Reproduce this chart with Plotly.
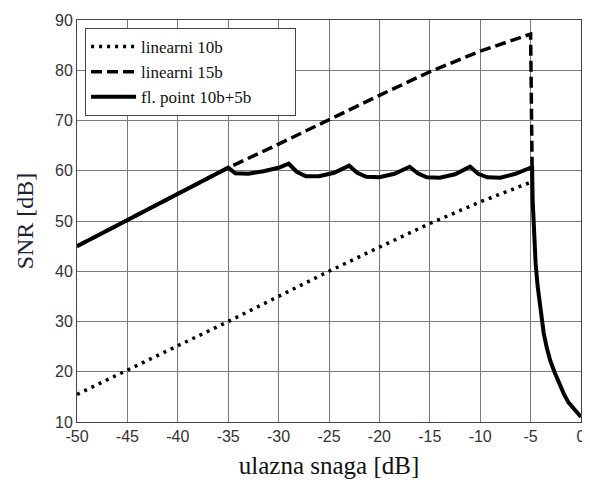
import plotly.graph_objects as go

# linearni 10b (dotted)
lin10_x = [-50, -45, -40, -35, -30, -25, -20, -15, -10, -7, -5]
lin10_y = [15.5, 20.3, 25.2, 30.0, 35.0, 40.0, 44.8, 49.5, 53.8, 56.2, 57.7]

# linearni 15b (dashed)
lin15_x = [-50, -35, -30, -25, -20, -15, -10, -5, -4.85]
lin15_y = [45.0, 60.6, 65.3, 70.2, 75.0, 79.7, 83.8, 87.2, 60.8]

# fl. point 10b+5b (solid)
fp_x = [-50, -35, -34.3, -33, -31.5, -30, -29, -28.2, -27.3, -26, -24.5, -23,
        -22.2, -21.3, -20, -18.5, -17, -16.2, -15.3, -14, -12.5, -11,
        -10.2, -9.3, -8, -6.5, -5, -4.85, -4.8, -4.7, -4.6, -4.5, -4.3, -4.1,
        -3.9, -3.7, -3.4, -3.05, -2.6, -2.2, -1.7, -1.25, -0.6, 0]
fp_y = [45.0, 60.6, 59.5, 59.4, 59.9, 60.6, 61.4, 59.8, 58.9, 58.9, 59.6, 61.0,
        59.6, 58.8, 58.7, 59.4, 60.8, 59.5, 58.7, 58.6, 59.3, 60.8,
        59.4, 58.7, 58.6, 59.4, 60.6, 60.6, 54.3, 49.0, 45.3, 41.5, 37.0, 33.3,
        30.3, 27.7, 24.8, 22.2, 19.8, 17.7, 15.6, 13.9, 12.3, 11.0]

x_ticks = [-50, -45, -40, -35, -30, -25, -20, -15, -10, -5, 0]
y_ticks = [10, 20, 30, 40, 50, 60, 70, 80, 90]

pad = "\u00a0" * 9

fig = go.Figure()
fig.add_trace(go.Scatter(x=lin10_x, y=lin10_y, mode="lines", name="linearni 10b",
                         line=dict(color="black", width=3.5, dash="3px,5px")))
fig.add_trace(go.Scatter(x=lin15_x, y=lin15_y, mode="lines", name="linearni 15b",
                         line=dict(color="black", width=3.5, dash="11px,5px")))
fig.add_trace(go.Scatter(x=fp_x, y=fp_y, mode="lines", name="fl. point 10b+5b" + pad,
                         line=dict(color="black", width=4)))

axis_common = dict(
    showgrid=True, gridcolor="#7a7a7a", gridwidth=1,
    showline=True, linecolor="#444", linewidth=1, mirror=True,
    zeroline=False, ticks="", ticklabeloverflow="allow",
    tickfont=dict(family="Liberation Sans, Arial", size=16, color="#333"),
)
fig.update_xaxes(range=[-50, 0], tickvals=x_ticks, ticktext=[str(v) for v in x_ticks],
                 title=dict(text="ulazna snaga [dB]", standoff=12,
                            font=dict(family="Liberation Serif, Times New Roman", size=25, color="#111")),
                 **axis_common)
fig.update_yaxes(range=[10, 90], tickvals=y_ticks, ticktext=[str(v) for v in y_ticks],
                 title=dict(text="SNR [dB]", standoff=14,
                            font=dict(family="Liberation Serif, Times New Roman", size=24, color="#1a2238")),
                 **axis_common)

# the page body adds an 8px offset, so the figure is sized to fit the window
fig.update_layout(
    width=582, height=475,
    margin=dict(l=69, r=4, t=12, b=61),
    paper_bgcolor="white", plot_bgcolor="white",
    showlegend=True,
    legend=dict(x=0.016, y=0.98, xanchor="left", yanchor="top",
                bgcolor="white", bordercolor="#444", borderwidth=1,
                font=dict(family="Liberation Serif, Times New Roman", size=17, color="#111"),
                tracegroupgap=0, itemwidth=45),
)

fig.write_html("out.html")
